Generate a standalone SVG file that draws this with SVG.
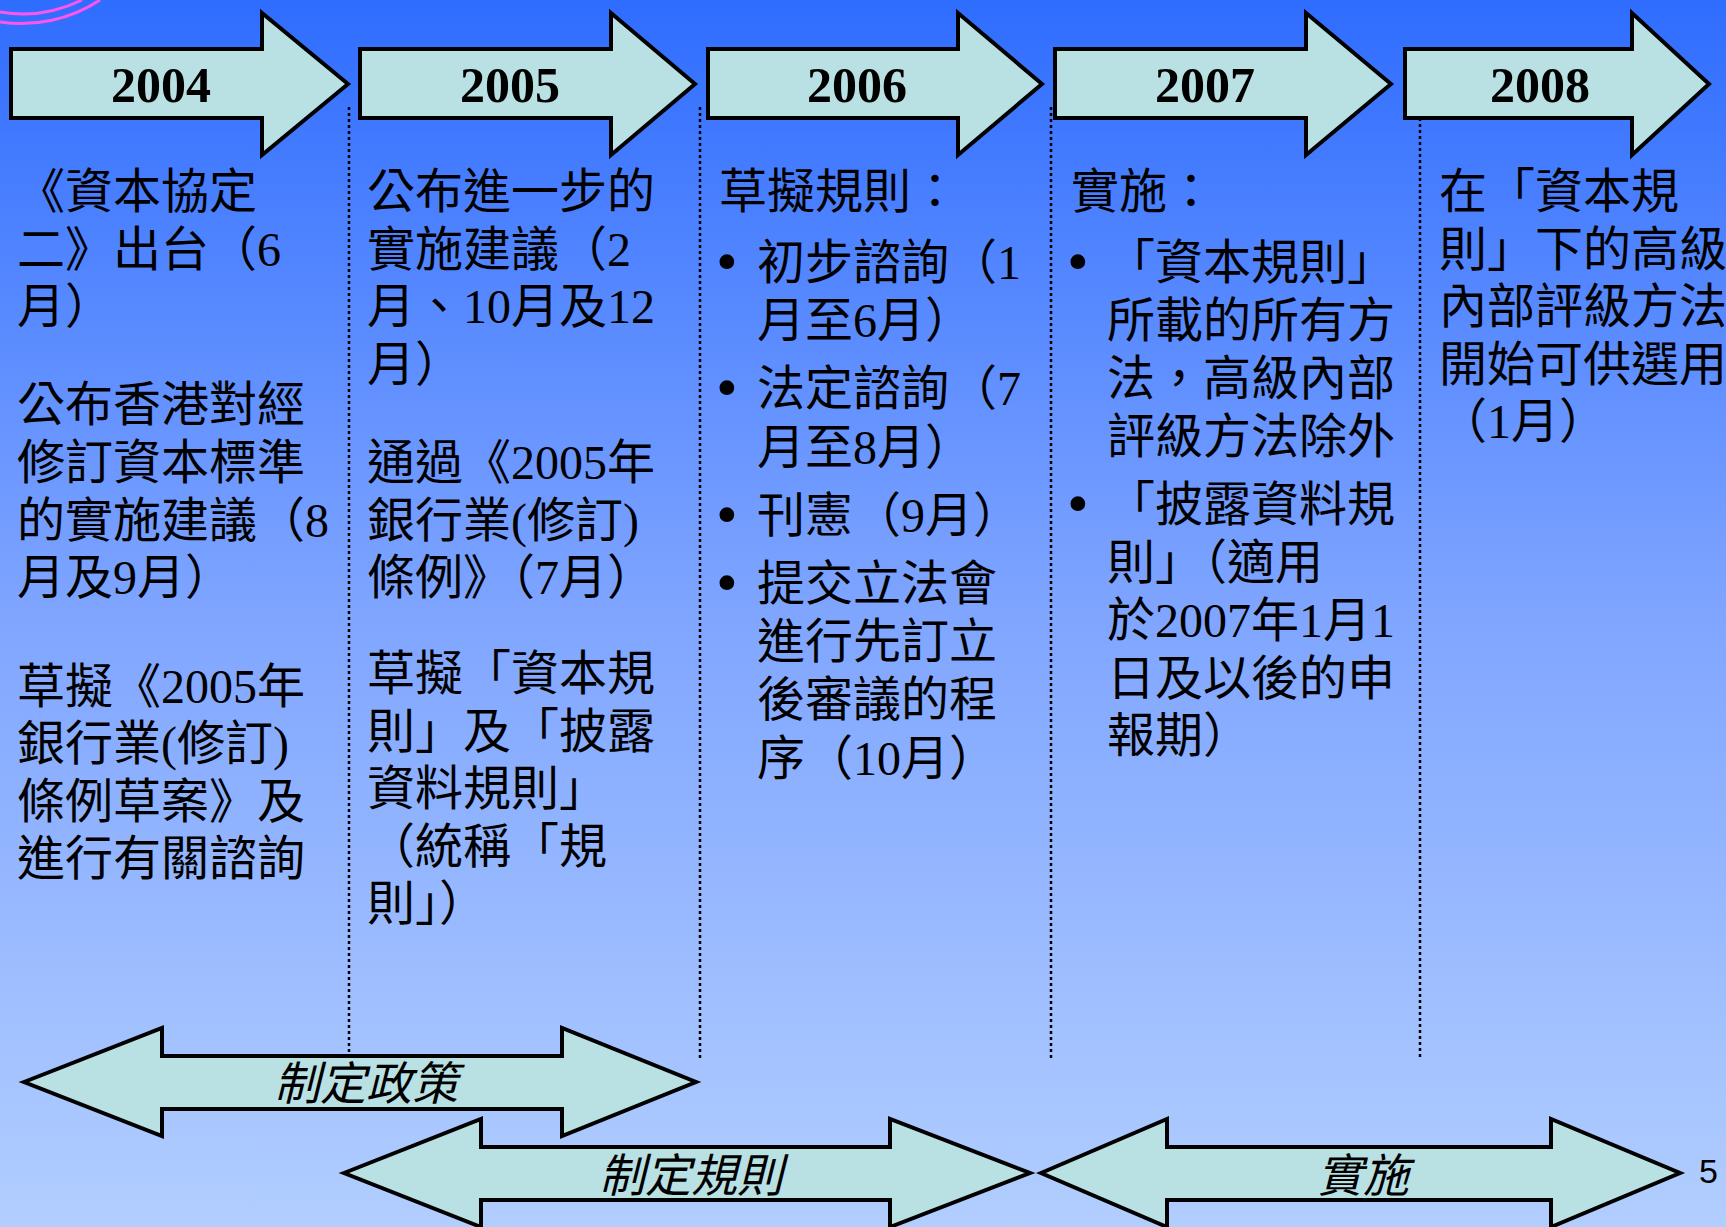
<svg xmlns="http://www.w3.org/2000/svg" width="1726" height="1227" viewBox="0 0 1726 1227">
<defs>
<linearGradient id="bg" x1="0" y1="0" x2="0" y2="1">
<stop offset="0" stop-color="#2F6DFF"/>
<stop offset="0.5" stop-color="#7FA5FF"/>
<stop offset="1" stop-color="#B2CEFF"/>
</linearGradient>
<style>
.arr{fill:#B9E0E3;stroke:#000;stroke-width:4;stroke-linejoin:miter}
.yr{font-family:"Liberation Serif",serif;font-weight:bold;font-size:50px;text-anchor:middle;fill:#000}
.t{font-family:"Liberation Serif","Noto Sans CJK TC",serif;font-size:48px;fill:#000}
.b{font-family:"Liberation Serif",serif;font-size:62px;fill:#000}
.lbl{font-family:"Noto Sans CJK TC",sans-serif;font-size:46px;font-style:italic;text-anchor:middle;fill:#000}
.dot{stroke:#000;stroke-width:2.5;stroke-dasharray:3 3;fill:none}
</style>
</defs>
<rect x="0" y="0" width="1726" height="1227" fill="url(#bg)"/>
<g id="logo-arcs" fill="none" stroke="#FF55EE" stroke-width="3">
<path d="M0,12 A133,133 0 0 0 82,0"/>
<path d="M0,22 A143,143 0 0 0 100,0"/>
</g>
<g id="connectors">
<line class="dot" x1="349" y1="107" x2="349" y2="1058"/>
<line class="dot" x1="700" y1="107" x2="700" y2="1058"/>
<line class="dot" x1="1051" y1="107" x2="1051" y2="1058"/>
<line class="dot" x1="1420" y1="118" x2="1420" y2="1058"/>
</g>
<g id="year-2004"><polygon class="arr" points="11,49 262,49 262,13 348,84 262,155 262,118 11,118"/><text class="yr" x="161" y="102">2004</text></g>
<g id="year-2005"><polygon class="arr" points="360,49 611,49 611,13 695,84 611,155 611,118 360,118"/><text class="yr" x="510" y="102">2005</text></g>
<g id="year-2006"><polygon class="arr" points="708,49 958,49 958,13 1042,84 958,155 958,118 708,118"/><text class="yr" x="857" y="102">2006</text></g>
<g id="year-2007"><polygon class="arr" points="1055,49 1306,49 1306,13 1391,84 1306,155 1306,118 1055,118"/><text class="yr" x="1205" y="102">2007</text></g>
<g id="year-2008"><polygon class="arr" points="1405,49 1632,49 1632,13 1709,84 1632,155 1632,118 1405,118"/><text class="yr" x="1540" y="102">2008</text></g>
<g id="col-2004" class="t">
<text x="17" y="208">《資本協定</text>
<text x="17" y="266">二》出台（6</text>
<text x="17" y="323">月）</text>
<text x="17" y="421">公布香港對經</text>
<text x="17" y="479">修訂資本標準</text>
<text x="17" y="537">的實施建議（8</text>
<text x="17" y="594">月及9月）</text>
<text x="17" y="703">草擬《2005年</text>
<text x="17" y="760">銀行業(修訂)</text>
<text x="17" y="818">條例草案》及</text>
<text x="17" y="875">進行有關諮詢</text>
</g>
<g id="col-2005" class="t">
<text x="367" y="208">公布進一步的</text>
<text x="367" y="266">實施建議（2</text>
<text x="367" y="323">月、10月及12</text>
<text x="367" y="381">月）</text>
<text x="367" y="479">通過《2005年</text>
<text x="367" y="537">銀行業(修訂)</text>
<text x="367" y="594">條例》（7月）</text>
<text x="367" y="690">草擬「資本規</text>
<text x="367" y="748">則」及「披露</text>
<text x="367" y="805">資料規則」</text>
<text x="367" y="863">（統稱「規</text>
<text x="367" y="920">則」）</text>
</g>
<g id="col-2006" class="t">
<text x="719" y="208">草擬規則：</text>
<text class="b" x="716" y="282">•</text><text x="757" y="279">初步諮詢（1</text>
<text x="757" y="337">月至6月）</text>
<text class="b" x="716" y="408">•</text><text x="757" y="405">法定諮詢（7</text>
<text x="757" y="464">月至8月）</text>
<text class="b" x="716" y="535">•</text><text x="757" y="532">刊憲（9月）</text>
<text class="b" x="716" y="603">•</text><text x="757" y="600">提交立法會</text>
<text x="757" y="658">進行先訂立</text>
<text x="757" y="716">後審議的程</text>
<text x="757" y="775">序（10月）</text>
</g>
<g id="col-2007" class="t">
<text x="1071" y="208">實施：</text>
<text class="b" x="1067" y="282">•</text><text x="1107" y="279">「資本規則」</text>
<text x="1107" y="337">所載的所有方</text>
<text x="1107" y="395">法，高級內部</text>
<text x="1107" y="453">評級方法除外</text>
<text class="b" x="1067" y="524">•</text><text x="1107" y="521">「披露資料規</text>
<text x="1107" y="579">則」（適用</text>
<text x="1107" y="637">於2007年1月1</text>
<text x="1107" y="695">日及以後的申</text>
<text x="1107" y="752">報期）</text>
</g>
<g id="col-2008" class="t">
<text x="1439" y="208">在「資本規</text>
<text x="1439" y="266">則」下的高級</text>
<text x="1439" y="323">內部評級方法</text>
<text x="1439" y="381">開始可供選用</text>
<text x="1439" y="438">（1月）</text>
</g>
<g id="phase-policy"><polygon class="arr" points="24,1082 162,1028 162,1056 562,1056 562,1028 696,1082 562,1136 562,1109 162,1109 162,1136"/><text class="lbl" x="366" y="1100">制定政策</text></g>
<g id="phase-rules"><polygon class="arr" points="344,1173 481,1119 481,1147 890,1147 890,1119 1030,1173 890,1227 890,1200 481,1200 481,1227"/><text class="lbl" x="691" y="1192">制定規則</text></g>
<g id="phase-impl"><polygon class="arr" points="1041,1173 1167,1119 1167,1147 1551,1147 1551,1119 1680,1173 1551,1227 1551,1200 1167,1200 1167,1227"/><text class="lbl" x="1363" y="1192">實施</text></g>
<text x="1699" y="1183" font-family="Liberation Sans, sans-serif" font-size="34" fill="#000">5</text>
</svg>
